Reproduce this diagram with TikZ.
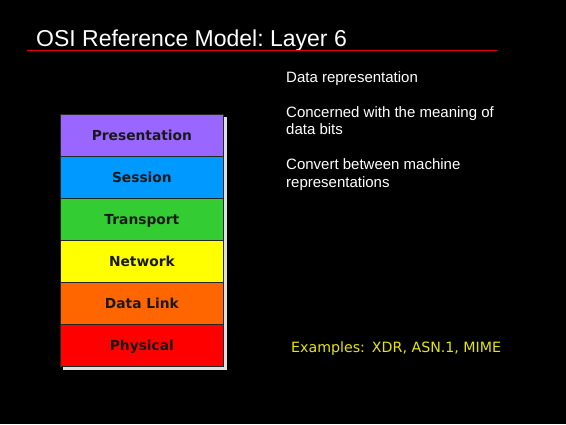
\documentclass[tikz,border=0pt]{standalone}
\usepackage{fontspec}
\setmainfont{Liberation Sans}
\newfontfamily\verdanalike{DejaVu Sans}
\frenchspacing
\definecolor{lpres}{HTML}{9966FF}
\definecolor{lsess}{HTML}{0099FF}
\definecolor{ltrans}{HTML}{33CC33}
\definecolor{lnet}{HTML}{FFFF00}
\definecolor{llink}{HTML}{FF6600}
\definecolor{lphys}{HTML}{FF0000}
\definecolor{exyellow}{HTML}{E6E600}
\tikzset{
  layerbox/.style={draw=black!85, line width=0.8pt, minimum width=163pt, minimum height=42pt,
    inner sep=0pt, anchor=north west, text height=9.8pt, text depth=0pt,
    font=\verdanalike\bfseries\fontsize{13.8}{15}\selectfont, text=black!90},
  bodytext/.style={anchor=base west, inner sep=0pt, text=white,
    font=\fontsize{15}{17.5}\selectfont},
}
\begin{document}
\begin{tikzpicture}[x=1pt,y=1pt]
  \fill[black] (0,0) rectangle (566,-424);
  \useasboundingbox (0,0) rectangle (566,-424);

  % title and rule
  \node[anchor=base west, inner sep=0pt, text=white, font=\fontsize{23}{26}\selectfont]
    (title) at (36,-46) {OSI Reference Model: Layer 6};
  \coordinate (ruleL) at (27,-50);
  \coordinate (ruleR) at (497,-50);
  \draw[red!90!black, line width=1pt] (ruleL) -- (ruleR);

  % shadow of the layer stack
  \fill[black!12] (63,-117) rectangle (227,-370);

  % the seven-layer stack (layers 6 to 1)
  \node[layerbox, fill=lpres]  (pres)  at (60,-114) {Presentation};
  \node[layerbox, fill=lsess]  (sess)  at (60,-156) {Session};
  \node[layerbox, fill=ltrans] (trans) at (60,-198) {Transport};
  \node[layerbox, fill=lnet]   (net)   at (60,-240) {Network};
  \node[layerbox, fill=llink]  (link)  at (60,-282) {Data Link};
  \node[layerbox, fill=lphys]  (phys)  at (60,-324) {Physical};

  % description
  \node[bodytext] (d1)  at (286,-82)  {Data representation};
  \node[bodytext] (d2a) at (286,-117) {Concerned with the meaning of};
  \node[bodytext] (d2b) at (286,-134) {data bits};
  \node[bodytext] (d3a) at (286,-169) {Convert between machine};
  \node[bodytext] (d3b) at (286,-187) {representations};

  \node[anchor=base west, inner sep=0pt, text=exyellow,
    font=\verdanalike\fontsize{14.2}{16}\selectfont]
    (ex) at (291,-352.5) {Examples:\hspace{7pt}XDR, ASN.1, MIME};
\end{tikzpicture}
\end{document}
